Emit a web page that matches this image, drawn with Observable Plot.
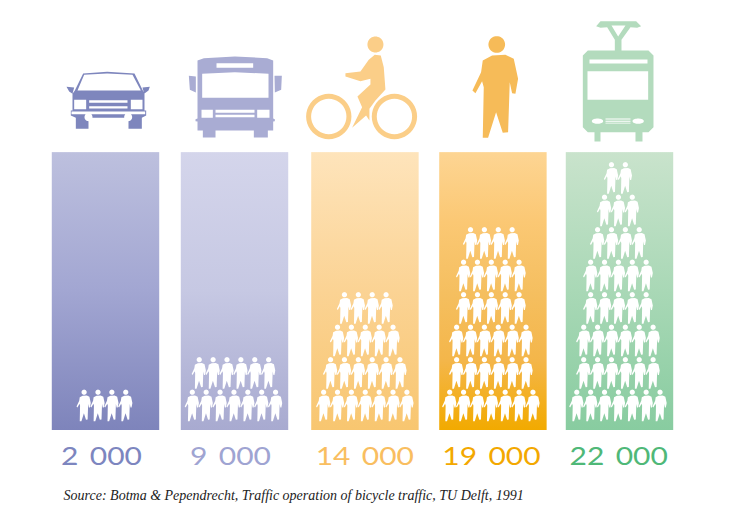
<!DOCTYPE html>
<html><head><meta charset="utf-8">
<script src="https://cdn.jsdelivr.net/npm/d3@7"></script>
<script src="https://cdn.jsdelivr.net/npm/@observablehq/plot@0.6"></script>
<style>
html,body{margin:0;padding:0;background:#fff}
.num text{word-spacing:3px}
</style></head><body><div id="chart"></div>
<script>
// DATA
const modes = ["Car","Bus","Bicycle","Pedestrian","Tram"];
const capacities = ["2 000","9 000","14 000","19 000","22 000"];
const peopleRows = [[4],[7,6],[7,6,5,4],[7,6,6,5,5,4],[7,6,6,5,5,4,3,2]];
const labelColors = ["#7d86bf","#9fa4d2","#f9be60","#f3a800","#4fb878"];
const iconColors = ["#7e86bd","#a9acd3","#fbce88","#f6bb58","#b3dbbd"];
const gradients = [
  ["#bdc0de","#a2a6d2","#7e84bb"],
  ["#d4d5eb","#c6c8e3","#a8aad0"],
  ["#fee4bb","#fbd394","#f8c670"],
  ["#fdd593","#fbc874","#f5bf60","#f4b64a","#f2aa00"],
  ["#c9e3cc","#a9d8b6","#88cca0"]
];
const source = "Source: Botma & Pependrecht, Traffic operation of bicycle traffic, TU Delft, 1991";

// Scale layout: x unit = one column, y unit = one row of people
const columnAt = [0,1.004,2.019,3.015,4];
const labelShift = [-0.035,-0.035,-0.005,-0.015,-0.01];
const peopleShift = [-0.012,-0.012,-0.005,-0.02,-0.016];
const colHalf = 0.418, personStep = 0.108, barTop = 8.55, iconRow = 10.154, labelRow = -0.80, personRow = 0.77;

// ICON OUTLINES (3x drawing units around an anchor)
const P = (...a) => ({p:a}), C = (x,y,r,ry) => ({c:[x,y,r,ry ?? r]});
const walkerBody = [562,150,590,135,630,133,655,145,668,205,660,250,650,248,643,215,638,365,622,367,602,305,578,382,562,382,565,230,560,212,540,248,531,240,557,185];
const walker = {a:[594,270], solid:[P(...walkerBody), C(604,102,25)], holes:[]};
const car = {a:[196.5,270],
  solid:[P(128,189,200,184,282,189,307,240,312,250,312,300,317,300,317,315,304,322,304,355,264,355,264,322,144,322,144,355,106,355,106,322,91,315,91,300,96,300,96,250,103,240),P(78,229,101,231,96,250,86,243),P(306,231,328,229,324,240,311,250)],
  holes:[P(131,193,200,189,276,193,301,240,111,240),P(101,268,137,268,137,296,101,296),P(271,268,306,268,306,296,271,296),P(146,269,261,269,261,277,146,277),P(146,287,261,287,261,294,146,294),P(93,303,314,303,314,311,93,311),C(144,320,12),C(263,320,12)]};
const bus = {a:[583.5,270],
  solid:[P(471,150,490,143,583,138,680,143,698,150,698,324,703,326,703,332,698,333,698,360,682,360,682,381,640,381,640,360,525,360,525,381,487,381,487,360,471,360,471,333,465,332,465,326,471,324),P(445,196,466,198,466,246,448,238),P(702,196,724,196,722,238,703,246)],
  holes:[P(528,158,638,158,638,172,528,172),P(485,190,583,185,684,190,684,262,485,262),P(483,298,517,298,517,322,483,322),P(650,298,687,298,687,322,650,322),P(525,298,642,298,642,307,525,307),P(525,313,642,313,642,320,525,320)]};
const bike = {a:[210,270],
  solid:[C(100,318,68),C(297,318,68),C(240,102,24)],
  holes:[C(100,318,53),C(297,318,53)],
  top:[P(150,188,195,183,220,148,238,133,256,135,265,170,270,237,240,270,222,295,222,330,212,315,170,352,200,290,186,258,225,222,225,205,195,212,150,198)]};
const tram = {a:[973.5,270],
  solid:[P(877,120,1059,120,1074,135,1074,350,1059,365,1041,365,1041,393,1020,393,1020,365,915,365,915,393,897,393,897,365,877,365,862,350,862,135),P(958,120,958,88,935,50,915,52,902,47,915,32,1022,32,1037,47,1025,52,1005,50,978,88,978,120)],
  holes:[P(882,147,1056,147,1056,159,882,159),P(876,182,1058,182,1058,268,876,268),C(906,332,17,8),C(1028,332,17,8),P(930,324,1005,324,1005,327,930,327),P(930,331,1005,331,1005,334,930,334),P(930,337,1005,337,1005,339,930,339),P(948,45,990,45,968,78)]};
const icons = [car,bus,bike,walker,tram];

function glyph(shapes, [ax,ay], unit) {
  return {draw(ctx, size) {
    const k = Math.sqrt(size/Math.PI)/10 * unit;
    const X = x => (x-ax)*k, Y = y => (y-ay)*k;
    for (const s of shapes) {
      if (s.p) {
        ctx.moveTo(X(s.p[0]),Y(s.p[1]));
        for (let i=2;i<s.p.length;i+=2) ctx.lineTo(X(s.p[i]),Y(s.p[i+1]));
        ctx.closePath();
      } else {
        const [x,y,r,ry] = s.c, n = 40;
        for (let i=0;i<n;i++){
          const t = i/n*2*Math.PI, px = X(x+r*Math.cos(t)), py = Y(y+ry*Math.sin(t));
          i ? ctx.lineTo(px,py) : ctx.moveTo(px,py);
        }
        ctx.closePath();
      }
    }
  }};
}
const personGlyph = glyph(walker.solid, [599.5,229.5], 0.104);

const people = peopleRows.flatMap((rows,col) => rows.flatMap((n,row) =>
  d3.range(n).map(k => ({col, row, k, n}))));

const bars = modes.map((m,i)=>({mode:m,i,at:columnAt[i]}));
const defs = () => {
  const d = d3.create("svg:defs");
  gradients.forEach((g,i)=>{
    const lg = d.append("linearGradient").attr("id","g"+i).attr("x1",0).attr("x2",0).attr("y1",0).attr("y2",1);
    g.forEach((c,j)=>lg.append("stop").attr("offset",j/(g.length-1)).attr("stop-color",c));
  });
  return d.node();
};
// widen the digits: the reference numerals are round and wide
const widen = (index, scales, values, dims, context, next) => {
  const g = next(index, scales, values, dims, context);
  d3.select(g).selectAll("text").each(function(){
    this.setAttribute("transform", (this.getAttribute("transform")||"") + " scale(1.2,1)");
  });
  return g;
};

const plot = Plot.plot({
  width:730, height:517,
  marginTop:0, marginRight:0, marginBottom:0, marginLeft:0,
  style:{background:"#fff"},
  x:{domain:[-0.821,4.86], range:[0,730], axis:null},
  y:{domain:[-2.677,13.231], range:[517,0], axis:null},
  marks:[
    defs,
    ...bars.map(b => Plot.rect([b],{x1:d=>d.at-colHalf, x2:d=>d.at+colHalf, y1:0, y2:barTop, fill:`url(#g${b.i})`})),
    Plot.dot(people,{x:d=>columnAt[d.col]+peopleShift[d.col]+(d.k-(d.n-1)/2)*personStep, y:d=>personRow+d.row, r:10, fill:"#fff", stroke:"none", symbol:personGlyph}),
    ...icons.flatMap((ic,i)=>{
      const at = [bars[i]], opt = {x:"at", y:()=>iconRow, r:10, stroke:"none"};
      const ms = [Plot.dot(at,{...opt, fill:iconColors[i], symbol:glyph(ic.solid,ic.a,1/3)})];
      if (ic.holes.length) ms.push(Plot.dot(at,{...opt, fill:"#fff", symbol:glyph(ic.holes,ic.a,1/3)}));
      if (ic.top) ms.push(Plot.dot(at,{...opt, fill:iconColors[i], symbol:glyph(ic.top,ic.a,1/3)}));
      return ms;
    }),
    Plot.text(bars,{x:d=>d.at+labelShift[d.i], y:()=>labelRow, text:d=>capacities[d.i], fill:d=>labelColors[d.i], fontFamily:"Lato", fontSize:25, className:"num", render:widen}),
    Plot.text([source],{x:()=>-0.33, y:()=>-2.0, text:d=>d, textAnchor:"start", fontFamily:"Liberation Serif", fontStyle:"italic", fontSize:14, fill:"#222"})
  ]
});
document.getElementById("chart").append(plot);
</script></body></html>
